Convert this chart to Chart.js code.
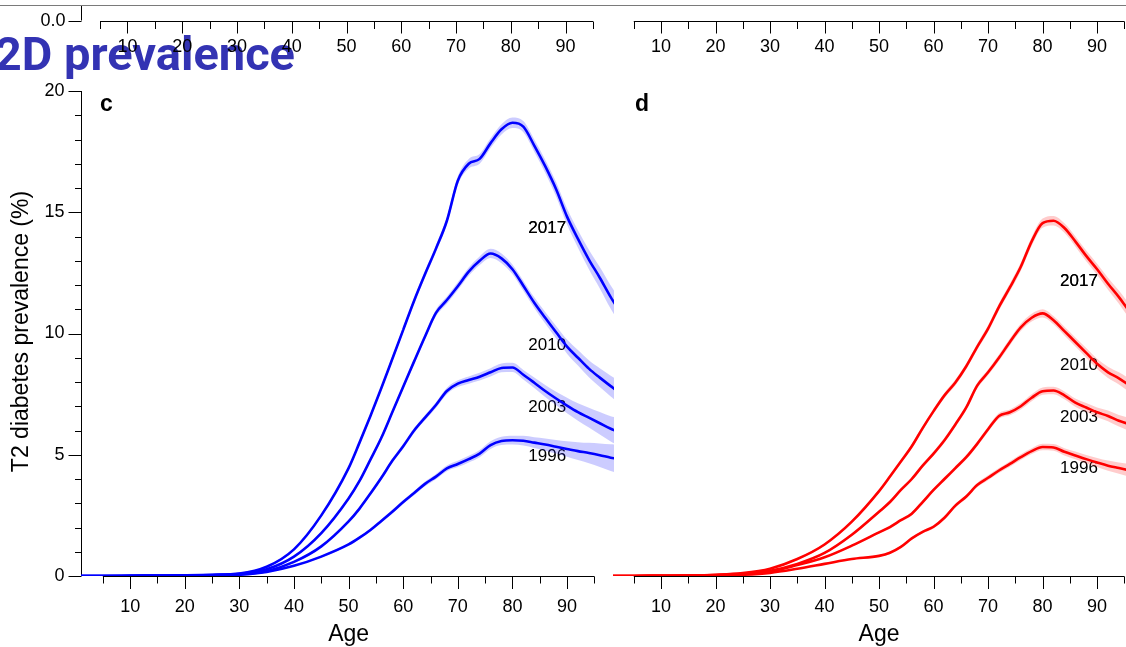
<!DOCTYPE html>
<html>
<head>
<meta charset="utf-8">
<script src="https://cdn.jsdelivr.net/npm/chart.js@4.4.1/dist/chart.umd.min.js"></script>
<style>
html, body { margin: 0; padding: 0; background: #fff; }
#wrap { position: relative; width: 1126px; height: 647px; overflow: hidden; background: #fff; }
#rule { position: absolute; left: 0; top: 5px; width: 1126px; height: 1px; background: #7a7a7a; z-index: 0; }
canvas { position: absolute; left: 0; top: 0; z-index: 1; }
</style>
</head>
<body>
<div id="wrap">
  <div id="rule"></div>
  <canvas id="ca" width="1126" height="647"></canvas>
  <canvas id="cb" width="1126" height="647"></canvas>
  <canvas id="cc" width="1126" height="647"></canvas>
  <canvas id="cd" width="1126" height="647"></canvas>
</div>
<script>
// ---------------- data ----------------
const AGES = [1,5,10,15,20,25,30,35,40,45,50,52,54,56,58,60,62,64,66,68,70,72,74,76,78,80,82,84,86,88,90,92,94,96,98,100];
const YEARS = ['2017','2010','2003','1996'];
const PAGE_TITLE = 'T2D prevalence';

// panel c (blue)
const c2017 = [0,0,0.01,0.02,0.03,0.05,0.1,0.38,1.1,2.5,4.45,5.5,6.6,7.75,8.95,10.15,11.35,12.45,13.5,14.65,16.3,17.0,17.2,17.85,18.42,18.69,18.53,17.75,16.9,15.95,14.82,13.9,13.05,12.3,11.5,10.8];
const c2010 = [0,0,0.005,0.01,0.02,0.04,0.09,0.28,0.8,1.77,3.2,3.92,4.8,5.7,6.75,7.8,8.85,9.88,10.85,11.38,11.95,12.55,13.0,13.3,13.1,12.65,11.97,11.27,10.65,10.05,9.46,9.0,8.55,8.18,7.83,7.5];
const c2003 = [0,0,0.005,0.01,0.015,0.03,0.07,0.2,0.58,1.22,2.25,2.78,3.4,4.05,4.75,5.35,6.0,6.53,7.05,7.63,7.93,8.08,8.22,8.4,8.58,8.6,8.3,7.97,7.63,7.32,7.03,6.76,6.53,6.3,6.07,5.9];
const c1996 = [0,0,0.003,0.005,0.01,0.02,0.05,0.17,0.42,0.8,1.3,1.58,1.9,2.27,2.65,3.05,3.42,3.8,4.1,4.44,4.62,4.82,5.05,5.4,5.57,5.6,5.58,5.5,5.42,5.33,5.24,5.15,5.07,4.98,4.88,4.8];
const ciC2017 = [0,0,0,0.01,0.01,0.02,0.03,0.04,0.05,0.07,0.08,0.09,0.1,0.1,0.11,0.12,0.13,0.14,0.15,0.16,0.18,0.2,0.2,0.2,0.21,0.22,0.23,0.25,0.27,0.3,0.33,0.36,0.4,0.44,0.48,0.52];
const ciC2010 = [0,0,0,0.01,0.01,0.01,0.02,0.03,0.04,0.06,0.07,0.08,0.09,0.1,0.1,0.11,0.12,0.13,0.14,0.15,0.16,0.17,0.18,0.19,0.2,0.2,0.21,0.22,0.24,0.26,0.29,0.32,0.35,0.39,0.43,0.47];
const ciC2003 = [0,0,0,0.01,0.01,0.01,0.02,0.03,0.04,0.05,0.06,0.07,0.08,0.08,0.09,0.1,0.1,0.11,0.12,0.13,0.14,0.15,0.16,0.17,0.18,0.19,0.2,0.22,0.25,0.28,0.32,0.36,0.41,0.46,0.52,0.58];
const ciC1996 = [0,0,0,0,0.01,0.01,0.02,0.02,0.03,0.04,0.05,0.06,0.06,0.07,0.08,0.08,0.09,0.1,0.11,0.12,0.13,0.14,0.15,0.16,0.17,0.18,0.2,0.22,0.25,0.28,0.32,0.37,0.42,0.48,0.55,0.62];

// panel d (red)
const d2017 = [0,0,0.01,0.02,0.05,0.12,0.3,0.7,1.3,2.24,3.5,4.1,4.72,5.35,6.1,6.8,7.45,7.98,8.65,9.45,10.2,11.1,11.9,12.75,13.8,14.55,14.65,14.35,13.8,13.2,12.65,12.05,11.5,10.9,10.4,10.0];
const d2010 = [0,0,0.01,0.02,0.04,0.1,0.22,0.5,0.95,1.7,2.65,3.05,3.55,4.0,4.55,5.05,5.6,6.25,6.95,7.85,8.4,9.0,9.65,10.25,10.65,10.83,10.55,10.1,9.65,9.2,8.75,8.4,8.15,7.85,7.55,7.3];
const d2003 = [0,0,0.01,0.015,0.03,0.08,0.18,0.45,0.77,1.25,1.8,2.02,2.3,2.57,3.05,3.55,4.0,4.45,4.9,5.45,6.05,6.6,6.75,7.0,7.35,7.62,7.65,7.45,7.15,6.95,6.75,6.6,6.4,6.25,6.1,5.95];
const d1996 = [0,0,0.01,0.01,0.02,0.05,0.13,0.3,0.5,0.7,0.83,0.96,1.2,1.55,1.82,2.03,2.4,2.9,3.28,3.75,4.05,4.35,4.62,4.9,5.15,5.32,5.3,5.12,4.97,4.82,4.68,4.55,4.45,4.35,4.25,4.15];
const ciD2017 = [0,0,0,0.01,0.01,0.02,0.03,0.04,0.05,0.06,0.07,0.08,0.08,0.09,0.1,0.1,0.11,0.12,0.12,0.13,0.14,0.15,0.16,0.17,0.18,0.19,0.2,0.2,0.21,0.22,0.23,0.25,0.27,0.3,0.33,0.36];
const ciD2010 = [0,0,0,0.01,0.01,0.02,0.02,0.03,0.04,0.05,0.06,0.07,0.07,0.08,0.09,0.09,0.1,0.1,0.11,0.12,0.12,0.13,0.14,0.15,0.16,0.17,0.17,0.18,0.19,0.2,0.21,0.23,0.25,0.28,0.31,0.34];
const ciD2003 = [0,0,0,0.01,0.01,0.01,0.02,0.03,0.03,0.04,0.05,0.06,0.06,0.07,0.08,0.08,0.09,0.09,0.1,0.1,0.11,0.12,0.12,0.13,0.14,0.15,0.15,0.16,0.17,0.18,0.2,0.22,0.24,0.27,0.3,0.33];
const ciD1996 = [0,0,0,0,0.01,0.01,0.02,0.02,0.03,0.03,0.04,0.05,0.05,0.06,0.06,0.07,0.07,0.08,0.08,0.09,0.1,0.1,0.11,0.12,0.12,0.13,0.14,0.15,0.16,0.17,0.19,0.21,0.23,0.26,0.29,0.32];

// ticks
const X_MAJOR = [10,20,30,40,50,60,70,80,90];
const X_MAJOR_LABELS = ['10','20','30','40','50','60','70','80','90'];
const X_MINOR = [5,15,25,35,45,55,65,75,85,95];
const Y_MAJOR = [0,5,10,15,20];
const Y_MAJOR_LABELS = ['0','5','10','15','20'];
const Y_MINOR = [1,2,3,4,6,7,8,9,11,12,13,14,16,17,18,19];
const TOP_Y_TICKS = [0];
const TOP_Y_LABELS = ['0.0'];

// ---------------- helpers ----------------
const FONT = "'Liberation Sans', Arial, sans-serif";

function buildDatasets(series, cis, color, band) {
  const ds = [];
  series.forEach((vals, i) => {
    ds.push({ data: AGES.map((a, k) => ({ x: a, y: vals[k] - cis[i][k] })), borderWidth: 0, pointRadius: 0, fill: false, cubicInterpolationMode: 'monotone', borderColor: 'rgba(0,0,0,0)' });
    ds.push({ data: AGES.map((a, k) => ({ x: a, y: vals[k] + cis[i][k] })), borderWidth: 0, pointRadius: 0, fill: '-1', backgroundColor: band, cubicInterpolationMode: 'monotone', borderColor: 'rgba(0,0,0,0)' });
  });
  series.forEach(vals => {
    ds.push({ data: AGES.map((a, k) => ({ x: a, y: vals[k] })), borderColor: color, borderWidth: 2.6, pointRadius: 0, fill: false, cubicInterpolationMode: 'monotone' });
  });
  return ds;
}

const rAxes = {
  id: 'rAxes',
  beforeDatasetsDraw(chart, args, o) {
    const ctx = chart.ctx, xs = chart.scales.x, ys = chart.scales.y;
    const snap = v => Math.round(v) + 0.5;
    ctx.save();
    if (o.banner) {
      ctx.font = o.banner.font; ctx.fillStyle = o.banner.color;
      ctx.textAlign = 'right'; ctx.textBaseline = 'alphabetic';
      ctx.fillText(o.banner.text, o.banner.x, o.banner.y);
    }
    ctx.strokeStyle = '#000'; ctx.fillStyle = '#000'; ctx.lineWidth = 1;
    if (o.xAxis) {
      const a = o.xAxis, y0 = snap(ys.getPixelForValue(ys.min));
      ctx.beginPath();
      ctx.moveTo(xs.getPixelForValue(a.from), y0);
      ctx.lineTo(xs.getPixelForValue(a.to), y0);
      a.minor.forEach(v => { const p = snap(xs.getPixelForValue(v)); ctx.moveTo(p, y0); ctx.lineTo(p, y0 + a.minorLen); });
      a.major.forEach(v => { const p = snap(xs.getPixelForValue(v)); ctx.moveTo(p, y0); ctx.lineTo(p, y0 + a.majorLen); });
      ctx.stroke();
      ctx.font = a.font; ctx.textAlign = 'center'; ctx.textBaseline = 'middle';
      a.major.forEach((v, i) => ctx.fillText(a.labels[i], xs.getPixelForValue(v), y0 + a.labelDy));
    }
    if (o.yAxis) {
      const a = o.yAxis, x0 = snap(chart.chartArea.left);
      ctx.beginPath();
      ctx.moveTo(x0, ys.getPixelForValue(a.from));
      ctx.lineTo(x0, ys.getPixelForValue(a.to));
      a.minor.forEach(v => { const p = snap(ys.getPixelForValue(v)); ctx.moveTo(x0, p); ctx.lineTo(x0 - a.minorLen, p); });
      a.major.forEach(v => { const p = snap(ys.getPixelForValue(v)); ctx.moveTo(x0, p); ctx.lineTo(x0 - a.majorLen, p); });
      ctx.stroke();
      ctx.font = a.font; ctx.textAlign = 'right'; ctx.textBaseline = 'middle';
      a.major.forEach((v, i) => ctx.fillText(a.labels[i], x0 - a.labelDx, ys.getPixelForValue(v) + (a.labelDy || 0)));
    }
    if (o.xTitle) {
      ctx.font = o.xTitle.font; ctx.textAlign = 'center'; ctx.textBaseline = 'middle';
      ctx.fillText(o.xTitle.text, xs.getPixelForValue(o.xTitle.at), ys.getPixelForValue(ys.min) + o.xTitle.dy);
    }
    if (o.yTitle) {
      ctx.save();
      ctx.translate(o.yTitle.x, (ys.getPixelForValue(ys.min) + ys.getPixelForValue(ys.max)) / 2 - 2);
      ctx.rotate(-Math.PI / 2);
      ctx.font = o.yTitle.font; ctx.textAlign = 'center'; ctx.textBaseline = 'middle';
      ctx.fillText(o.yTitle.text, 0, 0);
      ctx.restore();
    }
    if (o.panel) {
      ctx.font = o.panel.font; ctx.textAlign = 'left'; ctx.textBaseline = 'middle';
      ctx.fillText(o.panel.text, chart.chartArea.left + o.panel.dx, chart.chartArea.top + o.panel.dy);
    }
    if (o.years) {
      ctx.font = o.years.font; ctx.textAlign = 'left'; ctx.textBaseline = 'middle';
      o.years.text.forEach((t, i) => {
        const px = xs.getPixelForValue(o.years.pos[i][0]), py = ys.getPixelForValue(o.years.pos[i][1]);
        ctx.fillText(t, px, py);
        if (i === 0) ctx.fillText(t, px, py);
      });
    }
    ctx.restore();
  }
};

function baseOptions(padding, xmin, xmax, ymin, ymax, axesOpts) {
  return {
    responsive: false, animation: false, devicePixelRatio: 1, events: [],
    layout: { padding },
    scales: {
      x: { type: 'linear', min: xmin, max: xmax, display: false },
      y: { type: 'linear', min: ymin, max: ymax, display: false }
    },
    plugins: { legend: { display: false }, tooltip: { enabled: false }, title: { display: false }, rAxes: axesOpts }
  };
}

const xAxisMain = { from: 5, to: 95, major: X_MAJOR, labels: X_MAJOR_LABELS, minor: X_MINOR, majorLen: 12.5, minorLen: 7, labelDy: 31, font: '18px ' + FONT };
const xAxisTop = { from: 5, to: 95, major: X_MAJOR, labels: X_MAJOR_LABELS, minor: X_MINOR, majorLen: 12, minorLen: 7.5, labelDy: 26, font: '18px ' + FONT };

// panel a (top-left remnant) + page title behind it
new Chart(document.getElementById('ca'), {
  type: 'line', data: { datasets: [] }, plugins: [rAxes],
  options: baseOptions({ left: 81, right: 533, top: 6, bottom: 626.5 }, 1.53, 95, 0, 1, {
    banner: { text: PAGE_TITLE, x: 295, y: 70, font: "bold 47px Roboto, 'Liberation Sans', sans-serif", color: '#3333B3' },
    xAxis: xAxisTop,
    yAxis: { from: 0, to: 1, major: TOP_Y_TICKS, labels: TOP_Y_LABELS, minor: [], majorLen: 13, minorLen: 6, labelDx: 16, labelDy: 0.5, font: '18px ' + FONT }
  })
});

// panel b (top-right remnant)
new Chart(document.getElementById('cb'), {
  type: 'line', data: { datasets: [] }, plugins: [rAxes],
  options: baseOptions({ left: 613, right: 0, top: 6, bottom: 626.5 }, 1.19, 95.3, 0, 1, { xAxis: xAxisTop })
});

// panel c
new Chart(document.getElementById('cc'), {
  type: 'line',
  data: { datasets: buildDatasets([c2017, c2010, c2003, c1996], [ciC2017, ciC2010, ciC2003, ciC1996], '#0000FF', 'rgba(0,0,255,0.2)') },
  plugins: [rAxes],
  options: baseOptions({ left: 81, right: 512, top: 91, bottom: 71 }, 1, 98.6, 0, 20, {
    xAxis: xAxisMain,
    yAxis: { from: 0, to: 20, major: Y_MAJOR, labels: Y_MAJOR_LABELS, minor: Y_MINOR, majorLen: 13, minorLen: 6.5, labelDx: 17, font: '18px ' + FONT },
    xTitle: { text: 'Age', at: 50, dy: 59, font: '23px ' + FONT },
    yTitle: { text: 'T2 diabetes prevalence (%)', x: 22, font: '23px ' + FONT },
    panel: { text: 'c', dx: 19, dy: 14, font: 'bold 23px ' + FONT },
    years: { text: YEARS, pos: [[82.9, 14.35], [82.9, 9.53], [82.9, 6.97], [82.9, 4.95]], font: '17px ' + FONT }
  })
});

// panel d
new Chart(document.getElementById('cd'), {
  type: 'line',
  data: { datasets: buildDatasets([d2017, d2010, d2003, d1996], [ciD2017, ciD2010, ciD2003, ciD1996], '#FF0000', 'rgba(255,0,0,0.2)') },
  plugins: [rAxes],
  options: baseOptions({ left: 613, right: 0, top: 91, bottom: 71 }, 1.19, 95.3, 0, 20, {
    xAxis: xAxisMain,
    xTitle: { text: 'Age', at: 50, dy: 59, font: '23px ' + FONT },
    panel: { text: 'd', dx: 22, dy: 14, font: 'bold 23px ' + FONT },
    years: { text: YEARS, pos: [[83.2, 12.16], [83.2, 8.7], [83.2, 6.56], [83.2, 4.45]], font: '17px ' + FONT }
  })
});
</script>
</body>
</html>
